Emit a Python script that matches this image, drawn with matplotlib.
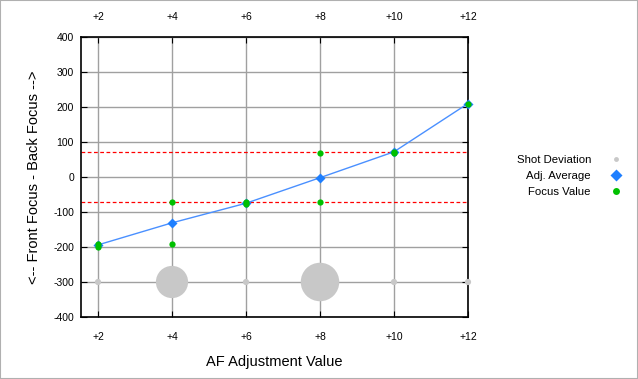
import matplotlib.pyplot as plt
from matplotlib.lines import Line2D

plt.rcParams['font.family'] = ['Liberation Sans', 'DejaVu Sans']
plt.rcParams['axes.unicode_minus'] = False

af_values = [2, 4, 6, 8, 10, 12]
tick_labels = ['+2', '+4', '+6', '+8', '+10', '+12']
adj_average = [-194, -131, -75, -2, 72, 210]
focus_x = [2, 2, 4, 4, 6, 6, 8, 8, 10, 10, 12]
focus_y = [-190, -200, -72, -190, -72, -78, 70, -72, 72, 70, 210]
shot_dev = [0, 46, 0, 55, 0, 0]
dev_y = -300
limit = 72

fig = plt.figure(figsize=(6.38, 3.79), dpi=100)
ax = fig.add_axes([81 / 638, 1 - 317 / 379, (468 - 81) / 638, (317 - 37) / 379])

ax.set_xlim(2 - 17 / 37, 12)
ax.set_ylim(-400, 400)

# bubble size from deviation (in y units -> points)
px_per_unit = 280 / 800
sizes = []
for d in shot_dev:
    diam_pt = max(2 * d * px_per_unit * 0.72, 4.5)
    sizes.append(diam_pt ** 2)
ax.scatter(af_values, [dev_y] * len(af_values), s=sizes, color='#c8c8c8',
           zorder=3, clip_on=False, linewidths=0)

ax.axhline(limit, color='#ff0000', ls=(0, (3, 2)), lw=0.9, zorder=2)
ax.axhline(-limit, color='#ff0000', ls=(0, (3, 2)), lw=0.9, zorder=2)

ax.plot(af_values, adj_average, color='#4a90ff', lw=1, zorder=4, clip_on=False)
ax.plot(af_values, adj_average, 'D', color='#1e7fff', ms=5.5, zorder=5,
        clip_on=False, mec='none')
ax.plot(focus_x, focus_y, 'o', color='#00c000', ms=4.5, zorder=6,
        clip_on=False, mec='none')

ax.set_xticks(af_values)
ax.set_xticklabels(tick_labels)
ax.set_yticks(range(-400, 401, 100))
ax.tick_params(axis='both', labelsize=7.5, length=4, direction='in',
               top=True, right=True, labeltop=True, pad=11)
ax.tick_params(axis='y', pad=5)
ax.grid(True, color='#a0a0a0', lw=1)
ax.set_axisbelow(True)
for sp in ax.spines.values():
    sp.set_linewidth(1.2)

ax.set_xlabel('AF Adjustment Value', fontsize=10.5, labelpad=9)
ax.set_ylabel('<-- Front Focus - Back Focus -->', fontsize=10.5, labelpad=9)

handles = [
    Line2D([], [], ls='none', marker='o', color='#c8c8c8', ms=3.5, mec='none'),
    Line2D([], [], ls='none', marker='D', color='#1e7fff', ms=6, mec='none'),
    Line2D([], [], ls='none', marker='o', color='#00c000', ms=5, mec='none'),
]
fig.legend(handles, ['Shot Deviation', 'Adj. Average', 'Focus Value'],
           loc='center', bbox_to_anchor=(572 / 638, 1 - 176 / 379),
           frameon=False, markerfirst=False, fontsize=8.2,
           handletextpad=1.2, labelspacing=0.5)

fig.patches.append(plt.Rectangle((0, 0), 1, 1, transform=fig.transFigure,
                                 fill=False, ec='#b0b0b0', lw=1.5))

fig.savefig('out.png', dpi=100)
